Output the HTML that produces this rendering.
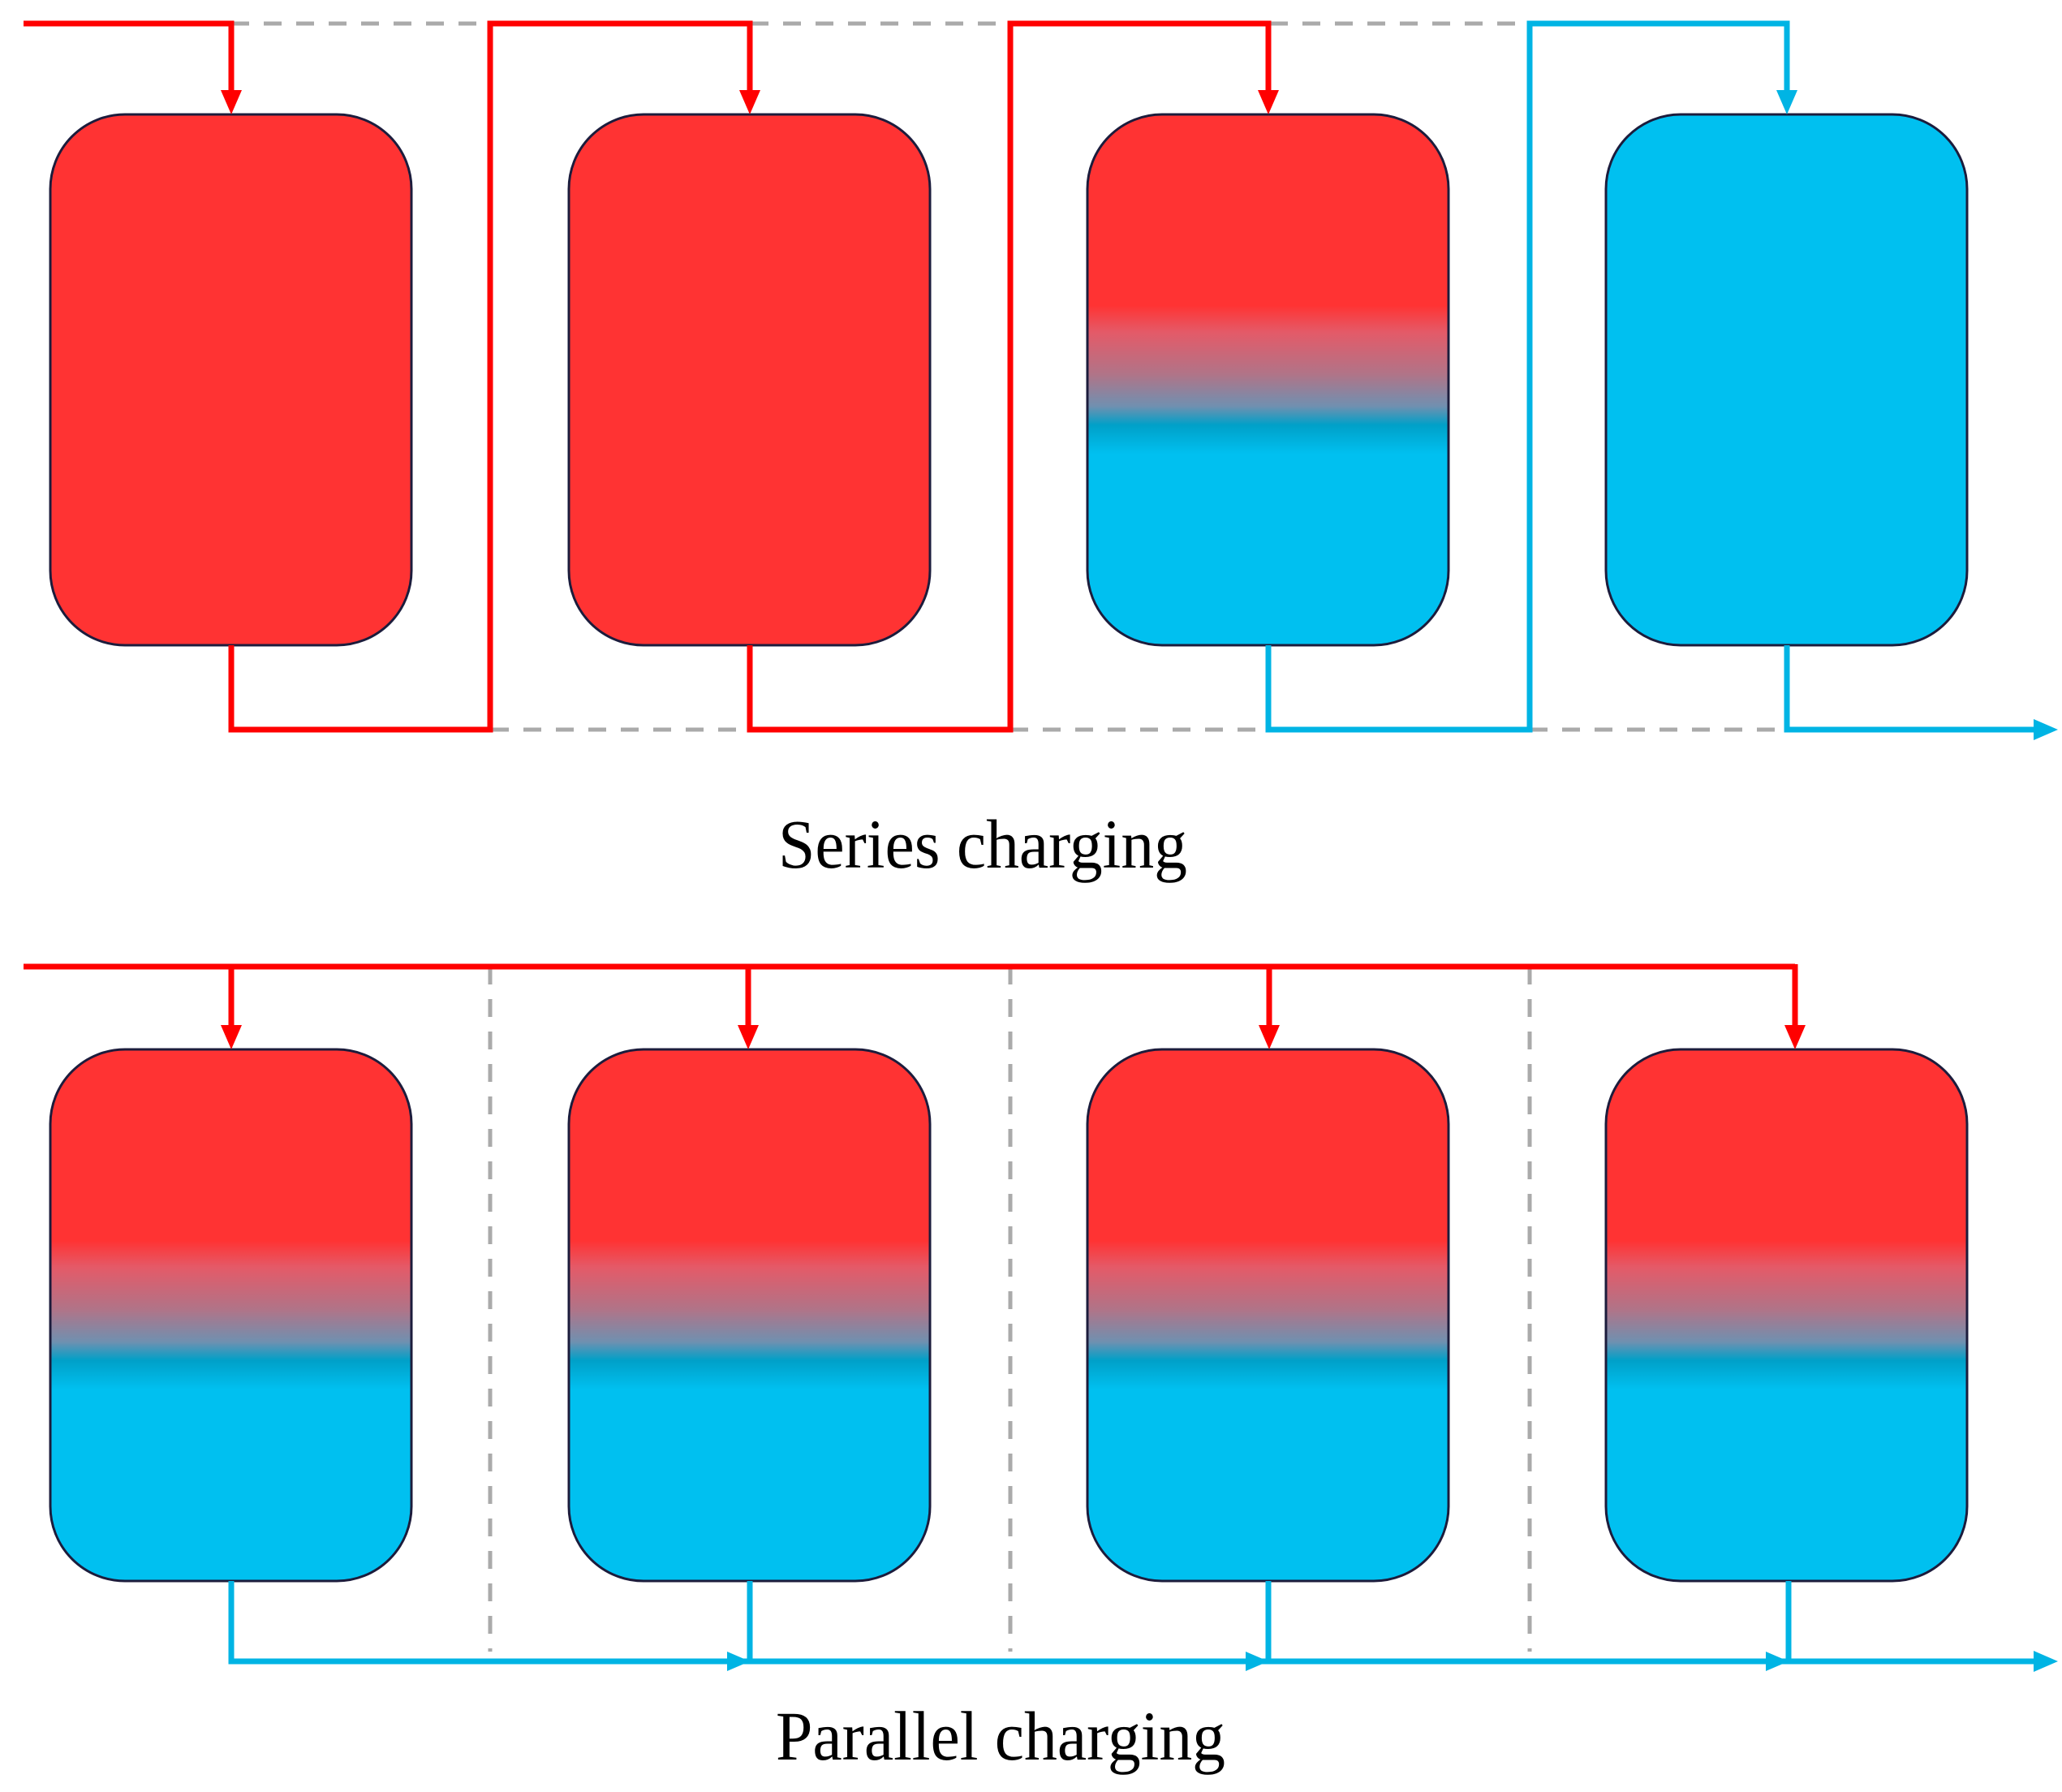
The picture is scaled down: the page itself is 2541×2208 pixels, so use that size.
<!DOCTYPE html>
<html><head><meta charset="utf-8"><style>html,body{margin:0;padding:0;background:#fff}svg{display:block}</style></head>
<body>
<svg width="2541" height="2208" viewBox="0 0 2541 2208" xmlns="http://www.w3.org/2000/svg">
<defs>
<linearGradient id="g" x1="0" y1="0" x2="0" y2="1">
<stop offset="0" stop-color="#ff3333"/>
<stop offset="0.36" stop-color="#ff3333"/>
<stop offset="0.41" stop-color="#e45a68"/>
<stop offset="0.49" stop-color="#b07488"/>
<stop offset="0.55" stop-color="#7090b0"/>
<stop offset="0.585" stop-color="#00a0c8"/>
<stop offset="0.64" stop-color="#00c0f0"/>
<stop offset="1" stop-color="#00c0f0"/>
</linearGradient>
</defs>
<g stroke="#aaaaaa" stroke-width="5" stroke-dasharray="22 18" fill="none">
<line x1="285" y1="29" x2="2202" y2="29"/>
<line x1="285" y1="899" x2="2202" y2="899"/>
<line x1="604" y1="1191" x2="604" y2="2035"/>
<line x1="1245" y1="1191" x2="1245" y2="2035"/>
<line x1="1885" y1="1191" x2="1885" y2="2035"/>
</g>
<g stroke="#1c1c3c" stroke-width="3">
<rect x="62" y="141" width="445" height="654" rx="92" fill="#ff3333"/>
<rect x="701" y="141" width="445" height="654" rx="92" fill="#ff3333"/>
<rect x="1340" y="141" width="445" height="654" rx="92" fill="url(#g)"/>
<rect x="1979" y="141" width="445" height="654" rx="92" fill="#00c0f0"/>
<rect x="62" y="1293" width="445" height="655" rx="92" fill="url(#g)"/>
<rect x="701" y="1293" width="445" height="655" rx="92" fill="url(#g)"/>
<rect x="1340" y="1293" width="445" height="655" rx="92" fill="url(#g)"/>
<rect x="1979" y="1293" width="445" height="655" rx="92" fill="url(#g)"/>
</g>
<g fill="none" stroke-width="7">
<polyline stroke="#ff0000" points="29,29 285,29 285,115"/>
<polyline stroke="#ff0000" points="285,795 285,899 604,899 604,29 924,29 924,115"/>
<polyline stroke="#ff0000" points="924,795 924,899 1245,899 1245,29 1563,29 1563,115"/>
<polyline stroke="#00b4e4" points="1563,795 1563,899 1885,899 1885,29 2202,29 2202,115"/>
<polyline stroke="#00b4e4" points="2202,795 2202,899 2510,899"/>
<polyline stroke="#ff0000" points="29,1191 2212,1191"/>
<line stroke="#ff0000" x1="285" y1="1191" x2="285" y2="1265"/>
<line stroke="#ff0000" x1="922" y1="1191" x2="922" y2="1265"/>
<line stroke="#ff0000" x1="1564" y1="1191" x2="1564" y2="1265"/>
<line stroke="#ff0000" x1="2212" y1="1188" x2="2212" y2="1265"/>
<polyline stroke="#00b4e4" points="285,1948 285,2047 2510,2047"/>
<line stroke="#00b4e4" x1="924" y1="1948" x2="924" y2="2047"/>
<line stroke="#00b4e4" x1="1563" y1="1948" x2="1563" y2="2047"/>
<line stroke="#00b4e4" x1="2204" y1="1948" x2="2204" y2="2047"/>
</g>
<g fill="#ff0000">
<polygon points="272,111 298,111 285,141"/>
<polygon points="911,111 937,111 924,141"/>
<polygon points="1550,111 1576,111 1563,141"/>
<polygon points="272,1263 298,1263 285,1293"/>
<polygon points="909,1263 935,1263 922,1293"/>
<polygon points="1551,1263 1577,1263 1564,1293"/>
<polygon points="2199,1263 2225,1263 2212,1293"/>
</g>
<g fill="#00b4e4">
<polygon points="2189,111 2215,111 2202,141"/>
<polygon points="2506,886 2506,912 2536,899"/>
<polygon points="896,2035 896,2059 924,2047"/>
<polygon points="1535,2035 1535,2059 1563,2047"/>
<polygon points="2176,2035 2176,2059 2204,2047"/>
<polygon points="2506,2034 2506,2060 2536,2047"/>
</g>
<text x="959" y="1069" font-family="Liberation Serif, serif" font-size="86" textLength="504" lengthAdjust="spacingAndGlyphs" fill="#000">Series charging</text>
<text x="956" y="2168" font-family="Liberation Serif, serif" font-size="86" textLength="554" lengthAdjust="spacingAndGlyphs" fill="#000">Parallel charging</text>
</svg>
</body></html>
